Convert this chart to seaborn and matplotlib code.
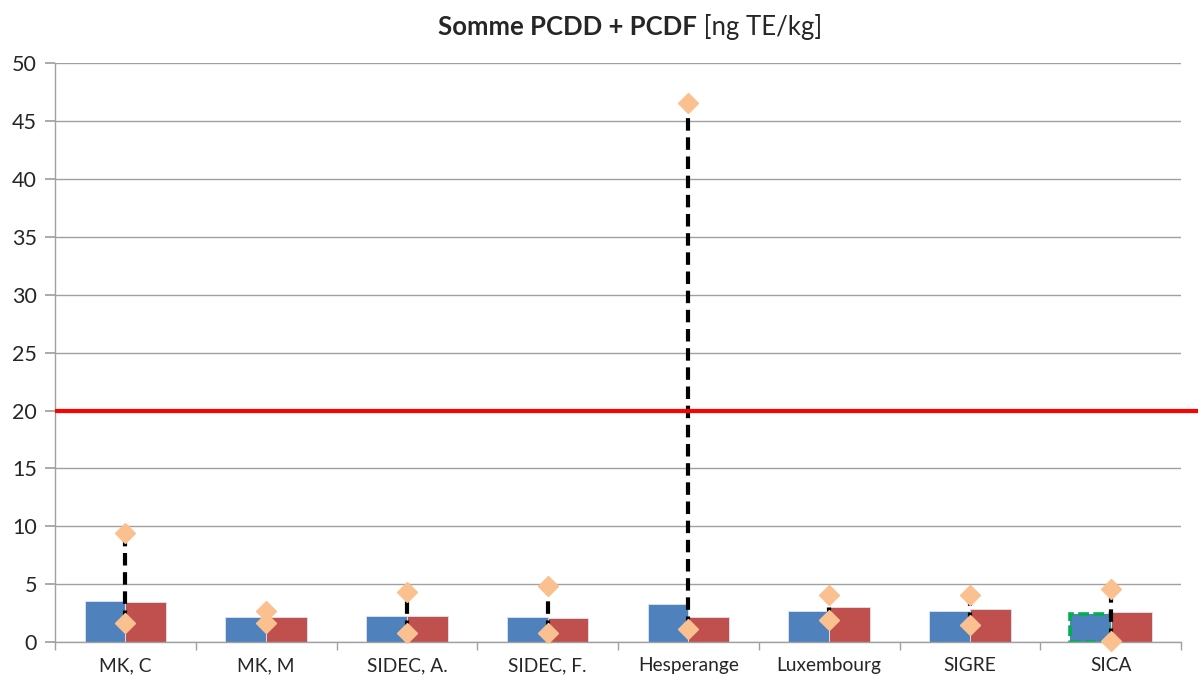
import matplotlib
matplotlib.use("Agg")
import matplotlib.pyplot as plt
import seaborn as sns
import pandas as pd
import numpy as np

categories = ["MK, C", "MK, M", "SIDEC, A.", "SIDEC, F.", "Hesperange", "Luxembourg", "SIGRE", "SICA"]
series_a = [3.54, 2.16, 2.25, 2.16, 3.28, 2.68, 2.68, 2.45]
series_b = [3.45, 2.16, 2.25, 2.07, 2.16, 3.00, 2.85, 2.60]
max_vals = [9.4, 2.68, 4.3, 4.84, 46.6, 4.06, 4.06, 4.58]
min_vals = [1.64, 1.64, 0.78, 0.78, 1.12, 1.9, 1.47, 0.05]
limit_value = 20
y_ticks = [0, 5, 10, 15, 20, 25, 30, 35, 40, 45, 50]

sns.set_theme(style="white")
plt.rcParams['font.family'] = ['Lato', 'DejaVu Sans']

df = pd.DataFrame({
    "cat": categories * 2,
    "val": series_a + series_b,
    "series": ["A"] * len(categories) + ["B"] * len(categories),
})

fig = plt.figure(figsize=(12.01, 6.8), dpi=100)
ax = fig.add_axes([0.0458, 0.0559, 0.9376, 0.851])

sns.barplot(data=df, x="cat", y="val", hue="series", order=categories,
            palette=["#4F81BD", "#C0504D"], width=0.58, dodge=True,
            errorbar=None, legend=False, ax=ax, saturation=1,
            edgecolor="#DCE6F2", linewidth=0.6, zorder=2)

# highlight SICA blue bar
sica_patch = ax.patches[len(categories) - 1]
sica_patch.set_edgecolor("#00B050")
sica_patch.set_linestyle((0, (3, 1.2)))
sica_patch.set_linewidth(2.6)

x = np.arange(len(categories))
for xi, lo, hi in zip(x, min_vals, max_vals):
    ax.plot([xi, xi], [lo, hi], color="black", lw=3, ls=(0, (3, 1.6)), zorder=3)
ax.plot(x, max_vals, ls="none", marker="D", ms=10, color="#FAC090", zorder=4, clip_on=False)
ax.plot(x, min_vals, ls="none", marker="D", ms=10, color="#FAC090", zorder=4, clip_on=False)

ax.set_ylim(0, 50)
ax.set_xlim(-0.5, len(categories) - 0.5)
# limit line, extends slightly beyond the plot area as in the original
ax.plot([-0.5, len(categories) - 0.38], [limit_value, limit_value], color="#FF0000",
        lw=3, zorder=3, clip_on=False, solid_capstyle="butt")

ax.set_yticks(y_ticks)
ax.set_yticklabels([str(t) for t in y_ticks], fontsize=15.5)
ax.set_xticks(x)
ax.set_xticklabels(categories, fontsize=13.8)
ax.set_xlabel("")
ax.set_ylabel("")
ax.yaxis.grid(True, color="#A0A0A0", lw=1)
ax.set_axisbelow(True)
for s in ["top", "right"]:
    ax.spines[s].set_visible(False)
for s in ["left", "bottom"]:
    ax.spines[s].set_color("#A0A0A0")
    ax.spines[s].set_linewidth(1)
ax.tick_params(axis="x", length=0, pad=11)
ax.tick_params(axis="y", length=7, color="#A0A0A0", left=True, pad=6)
ax.set_xticks(np.arange(len(categories) + 1) - 0.5, minor=True)
ax.tick_params(axis="x", which="minor", length=6, color="#A0A0A0", bottom=True)

# title: bold part + normal part
fig.canvas.draw()
r = fig.canvas.get_renderer()
t1 = fig.text(0, 0.96, "Somme PCDD + PCDF", fontsize=18.5, fontweight="bold", va="center")
t2 = fig.text(0, 0.96, " [ng TE/kg]", fontsize=18.5, va="center")
w1 = t1.get_window_extent(r).width
w2 = t2.get_window_extent(r).width
cx = 630
start = cx - (w1 + w2) / 2
t1.set_x(start / fig.bbox.width)
t2.set_x((start + w1) / fig.bbox.width)

fig.savefig("out.png", dpi=100)
